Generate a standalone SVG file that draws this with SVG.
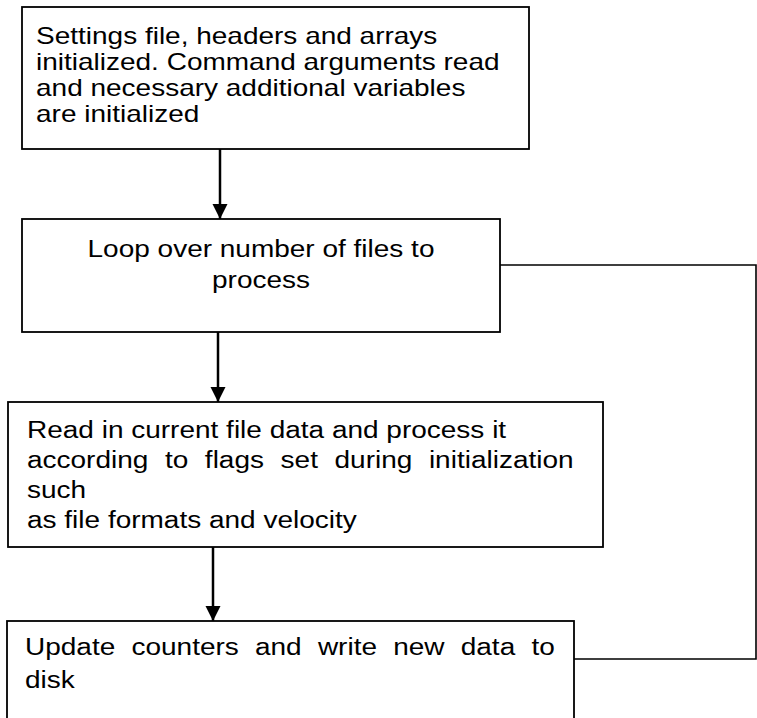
<svg xmlns="http://www.w3.org/2000/svg" width="757" height="718" viewBox="0 0 757 718">
<defs>
<style>
.box{fill:#fff;stroke:#000;stroke-width:1.8}
.t{font-family:"Liberation Sans",Arial,sans-serif;font-size:24px;fill:#000}
.s{font-size:23px}
.c{text-anchor:middle}
.arr{stroke:#000;stroke-width:2.5;fill:none}
.loop{stroke:#000;stroke-width:1.6;fill:none}
</style>
<marker id="ah" markerUnits="userSpaceOnUse" markerWidth="16" markerHeight="16" refX="15" refY="7.5" orient="auto">
<path d="M0,0 L15,7.5 L0,15 Z" fill="#000"/>
</marker>
</defs>
<rect width="757" height="718" fill="#fff"/>
<g id="n1">
<rect class="box" x="22" y="7" width="507" height="142"/>
<g transform="translate(36 0) scale(1.2174 1)">
<text class="t s" x="0" y="44">Settings file, headers and arrays</text>
<text class="t s" x="0" y="70">initialized. Command arguments read</text>
<text class="t s" x="0" y="96">and necessary additional variables</text>
<text class="t s" x="0" y="122">are initialized</text>
</g>
</g>
<g id="n2">
<rect class="box" x="22" y="219" width="478" height="113"/>
<g transform="translate(261 0) scale(1.1667 1)">
<text class="t c" x="0" y="257">Loop over number of files to</text>
<text class="t c" x="0" y="288">process</text>
</g>
</g>
<g id="n3">
<rect class="box" x="8" y="402" width="595" height="145"/>
<g transform="translate(27 0) scale(1.1667 1)">
<text class="t" x="0" y="438">Read in current file data and process it</text>
<text class="t" x="0" y="468" word-spacing="7.56">according to flags set during initialization</text>
<text class="t" x="0" y="498">such</text>
<text class="t" x="0" y="528">as file formats and velocity</text>
</g>
</g>
<g id="n4">
<rect class="box" x="7" y="621" width="567" height="110"/>
<g transform="translate(25 0) scale(1.1667 1)">
<text class="t" x="0" y="655" word-spacing="7.23">Update counters and write new data to</text>
<text class="t" x="0" y="688">disk</text>
</g>
</g>
<g id="connectors">
<line class="arr" x1="220" y1="149" x2="220" y2="219" marker-end="url(#ah)"/>
<line class="arr" x1="218" y1="332" x2="218" y2="402" marker-end="url(#ah)"/>
<line class="arr" x1="213" y1="547" x2="213" y2="621" marker-end="url(#ah)"/>
<polyline class="loop" points="574,659 756,659 756,265 500,265"/>
</g>
</svg>
